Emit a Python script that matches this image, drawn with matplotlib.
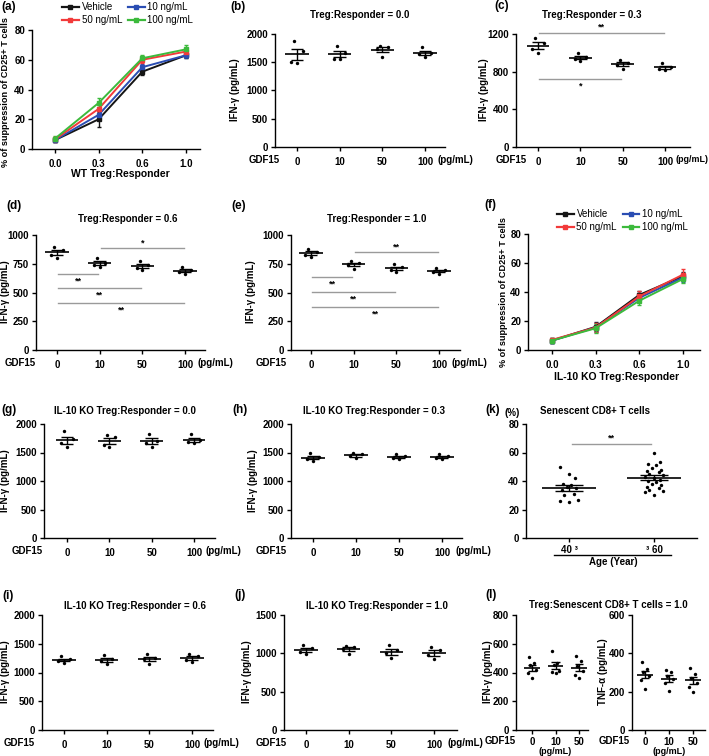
import numpy as np
import matplotlib
matplotlib.use("Agg")
import matplotlib.pyplot as plt
from matplotlib.lines import Line2D

plt.rcParams['font.family'] = ['Liberation Sans', 'DejaVu Sans']
plt.rcParams['font.weight'] = 'bold'
plt.rcParams['axes.linewidth'] = 1.0

# ---------------- data ----------------
ratio_labels = ['0.0', '0.3', '0.6', '1.0']
dose_labels = ['Vehicle', '10 ng/mL', '50 ng/mL', '100 ng/mL']
gdf15_labels = ['0', '10', '50', '100']
gdf15_short = ['0', '10', '50']
age_labels = ['40 \u00b3', '\u00b3 60']

# (a) WT Treg suppression, mean and SEM
wt_vehicle = [6, 20, 52, 63]
wt_10 = [6, 23, 55, 63]
wt_50 = [6.5, 27, 60, 65.5]
wt_100 = [7, 31, 61, 67]
wt_vehicle_err = [1.5, 5, 2, 2]
wt_10_err = [1.5, 3, 2, 2]
wt_50_err = [1.5, 3, 2, 2]
wt_100_err = [1.5, 3, 2, 3]

# (f) IL-10 KO Treg suppression
ko_vehicle = [6.5, 16, 38, 51]
ko_10 = [6.5, 15.5, 36, 50]
ko_50 = [7, 15.5, 37, 52]
ko_100 = [6.5, 15, 34, 49]
ko_vehicle_err = [1.5, 3, 3, 3]
ko_10_err = [1.5, 3, 3, 3]
ko_50_err = [1.5, 3, 4, 4]
ko_100_err = [1.5, 3, 3, 3]

# IFN-gamma dot plots (pg/mL), one list per GDF15 dose
ifn_b = [[1880, 1700, 1500, 1480], [1790, 1660, 1560, 1550],
         [1785, 1775, 1740, 1600], [1770, 1670, 1640, 1600]]
ifn_c = [[1160, 1100, 1040, 1000], [1000, 960, 930, 910],
         [925, 890, 870, 830], [890, 845, 830, 820]]
ifn_d = [[900, 870, 830, 800], [800, 760, 740, 720],
         [770, 735, 715, 700], [725, 700, 680, 660]]
ifn_e = [[880, 850, 830, 810], [775, 760, 740, 705],
         [745, 720, 700, 680], [710, 695, 680, 660]]
ifn_g = [[1880, 1730, 1670, 1590], [1810, 1780, 1630, 1600],
         [1820, 1710, 1670, 1600], [1820, 1720, 1680, 1660]]
ifn_h = [[1490, 1420, 1380, 1350], [1500, 1470, 1430, 1400],
         [1480, 1430, 1410, 1380], [1470, 1430, 1410, 1390]]
ifn_i = [[1280, 1230, 1200, 1170], [1300, 1240, 1200, 1150],
         [1320, 1260, 1230, 1150], [1320, 1290, 1220, 1190]]
ifn_j = [[1105, 1065, 1020, 985], [1095, 1085, 1060, 990],
         [1110, 1040, 1000, 935], [1085, 1040, 980, 920]]

# (k) senescent CD8+ T cells (%)
sen_young = [50, 45, 42, 38, 37, 36, 35, 34, 31, 30, 27, 26, 25]
sen_old = [60, 53, 52, 51, 49, 48, 47, 46, 45, 44, 43, 42, 41, 40, 39,
           38, 37, 36, 35, 34, 33, 32, 30]

# (l) Treg : senescent CD8+ T cells
ifn_l = [[505, 465, 450, 420, 395, 360], [550, 465, 455, 410, 405, 395],
         [515, 480, 445, 410, 385, 360]]
tnf_l = [[355, 320, 305, 280, 260, 215], [312, 305, 280, 265, 245, 205],
         [325, 290, 270, 245, 225, 200]]

# significance bars: (start, end, y of line, y of stars, stars)
sig_c = [(0, 3, 1215, 1270, '**'), (0, 2, 722, 650, '*')]
sig_d = [(1, 3, 887, 930, '*'), (0, 1, 661, 600, '**'),
         (0, 2, 539, 478, '**'), (0, 3, 409, 348, '**')]
sig_e = [(1, 3, 852, 895, '**'), (0, 1, 635, 575, '**'),
         (0, 2, 504, 444, '**'), (0, 3, 374, 314, '**')]
sig_k = [(0, 1, 66, 70, '**')]

# ---------------- figure helpers ----------------
W, H = 709, 756
fig = plt.figure(figsize=(W / 100, H / 100), dpi=100)
colors = ['#151515', '#2a4db3', '#f23a3a', '#3cba3c']


def add_ax(x0, x1, top, bottom, c0, c1, n):
    ax = fig.add_axes([x0 / W, 1 - bottom / H, (x1 - x0) / W, (bottom - top) / H])
    sp = (c1 - c0) / (n - 1)
    ax.set_xlim((x0 - c0) / sp, (x1 - c0) / sp)
    for s in ['top', 'right']:
        ax.spines[s].set_visible(False)
    ax.tick_params(direction='out', length=3, width=1, labelsize=7, pad=2)
    ax.tick_params(axis='x', pad=4)
    return ax


def ftext(x, y, s, size=7, **kw):
    kw.setdefault('ha', 'center')
    kw.setdefault('va', 'center')
    fig.text(x / W, 1 - y / H, s, fontsize=size, **kw)


def spread(vals, w):
    pattern = np.array([0.0, -1.0, 1.0, -0.5, 0.5, -0.8, 0.8, -0.25, 0.25, -0.6, 0.6])
    order = np.argsort(vals)
    off = np.zeros(len(vals))
    off[order] = np.resize(pattern, len(vals)) * w
    return off


def dots(ax, groups, wm=0.27, wc=0.15, ws=0.13, ms=6):
    for i, vals in enumerate(groups):
        vals = np.asarray(vals, float)
        m = vals.mean()
        se = vals.std(ddof=1) / np.sqrt(len(vals))
        ax.scatter(i + spread(vals, ws), vals, s=ms, color='k', linewidths=0, zorder=3)
        ax.hlines(m, i - wm, i + wm, color='k', lw=1.2)
        ax.vlines(i, m - se, m + se, color='k', lw=1.0)
        ax.hlines([m - se, m + se], i - wc, i + wc, color='k', lw=1.0)


def sig(ax, bars):
    for a, b, yl, ys, s in bars:
        ax.plot([a + 0.03, b - 0.03], [yl, yl], color='#9a9a9a', lw=1, clip_on=False)
        ax.text((a + b) / 2, ys, s, ha='center', va='center', fontsize=6.5, clip_on=False)


def lines(ax, series, errs, legend_xy):
    x = np.arange(len(ratio_labels))
    handles = []
    for vals, err, c, lab in zip(series, errs, colors, dose_labels):
        ax.errorbar(x, vals, yerr=err, color=c, lw=1.4, marker='s', ms=2.2,
                    capsize=1.5, elinewidth=1.0)
        handles.append(Line2D([], [], color=c, lw=1.6, marker='s', ms=2.2, label=lab))
    ax.set_ylim(0, 80)
    ax.set_yticks([0, 20, 40, 60, 80])
    ax.set_xticks(x)
    ax.set_xticklabels(ratio_labels)
    ax.legend([handles[0], handles[2], handles[1], handles[3]],
              [dose_labels[0], dose_labels[2], dose_labels[1], dose_labels[3]],
              ncol=2, frameon=False, loc='center', bbox_to_anchor=legend_xy,
              prop={'size': 7, 'weight': 'normal'}, handlelength=1.7,
              handletextpad=0.3, columnspacing=0.6, labelspacing=0.3,
              borderpad=0.1)
    return ax


def gdf_axis(ax, ylim, yticks, labels, bottom, gx, unit_x, gy=13, unit_size=7):
    ax.set_ylim(*ylim)
    ax.set_yticks(yticks)
    ax.set_xticks(range(len(labels)))
    ax.set_xticklabels(labels)
    ftext(gx, bottom + gy, 'GDF15')
    if unit_x is not None:
        ftext(unit_x, bottom + gy, '(pg/mL)', size=unit_size, ha='left')


ylab_pct = '% of suppression of CD25+ T cells'
ylab_ifn = 'IFN-\u03b3 (pg/mL)'

# ---------------- row 1 ----------------
ax = add_ax(32, 200, 30, 149, 55, 186, 4)
lines(ax, [wt_vehicle, wt_10, wt_50, wt_100],
      [wt_vehicle_err, wt_10_err, wt_50_err, wt_100_err], (0.57, 1.135))
ftext(120, 174, 'WT Treg:Responder', size=7.5)
ftext(6, 92, ylab_pct, size=6.6, rotation=90)

ax = add_ax(275, 445, 34, 147, 297, 425, 4)
dots(ax, ifn_b)
gdf_axis(ax, (0, 2000), [0, 500, 1000, 1500, 2000], gdf15_labels, 147, 264, 438)
ftext(360, 15, 'Treg:Responder = 0.0')
ftext(235, 90, ylab_ifn, rotation=90)

ax = add_ax(516, 690, 34, 147, 538, 665, 4)
dots(ax, ifn_c)
sig(ax, sig_c)
gdf_axis(ax, (0, 1200), [0, 400, 800, 1200], gdf15_labels, 147, 511, 675, unit_size=6.4)
ftext(592, 15, 'Treg:Responder = 0.3')
ftext(484, 90, ylab_ifn, rotation=90)

# ---------------- row 2 ----------------
ax = add_ax(36, 205, 235, 350, 57, 185, 4)
dots(ax, ifn_d)
sig(ax, sig_d)
gdf_axis(ax, (0, 1000), [0, 250, 500, 750, 1000], gdf15_labels, 350, 20, 198)
ftext(128, 219, 'Treg:Responder = 0.6')
ftext(5, 292, ylab_ifn, rotation=90)

ax = add_ax(291, 460, 235, 350, 311, 439, 4)
dots(ax, ifn_e)
sig(ax, sig_e)
gdf_axis(ax, (0, 1000), [0, 250, 500, 750, 1000], gdf15_labels, 350, 271, 452)
ftext(377, 219, 'Treg:Responder = 1.0')
ftext(251, 292, ylab_ifn, rotation=90)

ax = add_ax(528, 700, 234, 350, 552, 683, 4)
lines(ax, [ko_vehicle, ko_10, ko_50, ko_100],
      [ko_vehicle_err, ko_10_err, ko_50_err, ko_100_err], (0.55, 1.115))
ftext(617, 377, 'IL-10 KO Treg:Responder', size=7.5)
ftext(503, 292, ylab_pct, size=6.6, rotation=90)

# ---------------- row 3 ----------------
ax = add_ax(44, 215, 424, 538, 67, 194, 4)
dots(ax, ifn_g)
gdf_axis(ax, (0, 2000), [0, 500, 1000, 1500, 2000], gdf15_labels, 538, 27, 206)
ftext(125, 411, 'IL-10 KO Treg:Responder = 0.0')
ftext(5, 481, ylab_ifn, rotation=90)

ax = add_ax(291, 462, 424, 538, 313, 442, 4)
dots(ax, ifn_h)
gdf_axis(ax, (0, 2000), [0, 500, 1000, 1500, 2000], gdf15_labels, 538, 271, 455)
ftext(374, 411, 'IL-10 KO Treg:Responder = 0.3')
ftext(253, 481, ylab_ifn, rotation=90)

ax = add_ax(526, 697, 424, 538, 569, 654, 2)
dots(ax, [sen_young, sen_old], wm=0.32, wc=0.17, ws=0.11, ms=6)
sig(ax, sig_k)
ax.set_ylim(0, 80)
ax.set_yticks([0, 20, 40, 60, 80])
ax.set_xticks([0, 1])
ax.set_xticklabels(age_labels)
ax.tick_params(axis='x', pad=2)
fig.add_artist(Line2D([554 / W, 671 / W], [1 - 555 / H, 1 - 555 / H], color='k', lw=1))
ftext(613, 562, 'Age (Year)')
ftext(512, 413, '(%)')
ftext(595, 411, 'Senescent CD8+ T cells')

# ---------------- row 4 ----------------
ax = add_ax(42, 213, 615, 730, 64, 192, 4)
dots(ax, ifn_i)
gdf_axis(ax, (0, 2000), [0, 500, 1000, 1500, 2000], gdf15_labels, 730, 19, 204)
ftext(135, 606, 'IL-10 KO Treg:Responder = 0.6')
ftext(5, 672, ylab_ifn, rotation=90)

ax = add_ax(284, 457, 615, 730, 306, 434, 4)
dots(ax, ifn_j)
gdf_axis(ax, (0, 1500), [0, 500, 1000, 1500], gdf15_labels, 730, 271, 447)
ftext(377, 606, 'IL-10 KO Treg:Responder = 1.0')
ftext(247, 672, ylab_ifn, rotation=90)

ax = add_ax(516, 588, 615, 730, 532, 579, 3)
dots(ax, ifn_l, wm=0.33, wc=0.18, ws=0.16)
ax.tick_params(axis='x', pad=2)
gdf_axis(ax, (0, 800), [0, 200, 400, 600, 800], gdf15_short, 730, 500, None, gy=11)
ftext(555, 751, '(pg/mL)', size=6.5)
ftext(488, 672, ylab_ifn, rotation=90)

ax = add_ax(632, 705, 615, 730, 645, 693, 3)
dots(ax, tnf_l, wm=0.33, wc=0.18, ws=0.16)
ax.tick_params(axis='x', pad=2)
gdf_axis(ax, (0, 600), [0, 200, 400, 600], gdf15_short, 730, 614, None, gy=11)
ftext(669, 751, '(pg/mL)', size=6.5)
ftext(603, 672, 'TNF-\u03b1 (pg/mL)', rotation=90)
ftext(608, 605, 'Treg:Senescent CD8+ T cells = 1.0')

# ---------------- panel letters ----------------
for s, x, y in [('(a)', 9, 7), ('(b)', 238, 7), ('(c)', 502, 6),
                ('(d)', 14, 206), ('(e)', 239, 206), ('(f)', 490, 205),
                ('(g)', 9, 410), ('(h)', 240, 410), ('(k)', 493, 410),
                ('(i)', 8, 596), ('(j)', 240, 595), ('(l)', 491, 595)]:
    ftext(x, y, s, size=8.5)

fig.savefig('out.png', dpi=100)
